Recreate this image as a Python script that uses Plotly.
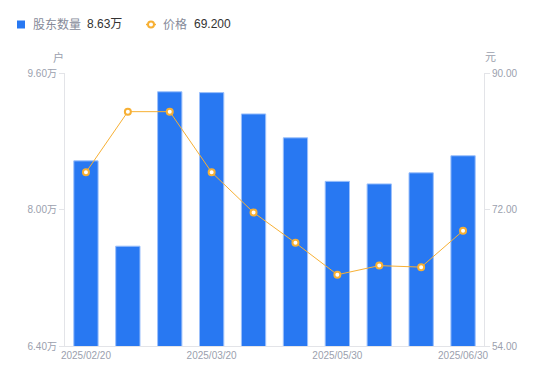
import plotly.graph_objects as go

dates = ["2025/02/20", "2025/02/28", "2025/03/10", "2025/03/20", "2025/03/31",
         "2025/04/30", "2025/05/30", "2025/06/10", "2025/06/20", "2025/06/30"]
holders = [8.57, 7.57, 9.38, 9.37, 9.12, 8.84, 8.33, 8.30, 8.43, 8.63]  # 万户
price = [76.9, 84.9, 84.9, 76.9, 71.6, 67.6, 63.4, 64.6, 64.4, 69.2]
x_ticks = ["2025/02/20", "2025/03/20", "2025/05/30", "2025/06/30"]
left_ticks = [6.4, 8.0, 9.6]
right_ticks = [54, 72, 90]
legend_names = ["股东数量", "价格"]
legend_values = ["8.63万", "69.200"]

FONT = "Liberation Sans, Arial, Noto Sans CJK SC, sans-serif"
GRAY = "#9b9fae"
LEG_GRAY = "#868a99"
DARK = "#333333"
AXIS = "#e3e4e8"
BLUE = "#2878f2"
ORANGE = "#f7b034"

# page body has an 8px margin; compensate so the chart lands where the reference has it
W, H = 542, 373
ML, MR, MT, MB = 57, 66, 65, 35
PW, PH = W - ML - MR, H - MT - MB


def px(x):  # figure pixel -> paper x
    return (x - ML) / PW


def py(y):  # figure pixel (from top) -> paper y
    return (H - MB - y) / PH


fig = go.Figure()
fig.add_trace(go.Bar(
    x=dates, y=holders, base=0, name=legend_names[0],
    marker=dict(color=BLUE, line=dict(color="#9cc0fb", width=1)),
    yaxis="y", hoverinfo="skip",
))
fig.add_trace(go.Scatter(
    x=dates, y=price, mode="lines+markers", name=legend_names[1],
    line=dict(color=ORANGE, width=1),
    marker=dict(color="white", size=6, line=dict(color=ORANGE, width=2)),
    yaxis="y2", hoverinfo="skip",
))

# legend drawn as text + small icons (as in the reference header)
LY = 16.5
shapes = [
    dict(type="rect", xref="paper", yref="paper", x0=px(9), x1=px(17),
         y0=py(LY - 4), y1=py(LY + 4), fillcolor=BLUE, line=dict(width=0)),
    dict(type="line", xref="paper", yref="paper", x0=px(138), x1=px(148),
         y0=py(LY), y1=py(LY), line=dict(color=ORANGE, width=1.5)),
    dict(type="circle", xref="paper", yref="paper", x0=px(140), x1=px(146),
         y0=py(LY - 3), y1=py(LY + 3), fillcolor="white",
         line=dict(color=ORANGE, width=2)),
]
annotations = []
for name, val, xn, xv in zip(legend_names, legend_values, [23, 153], [77, 184]):
    annotations.append(dict(text=name, xref="paper", yref="paper", x=px(xn), y=py(LY),
                            xanchor="left", yanchor="middle", showarrow=False,
                            font=dict(size=12, color=LEG_GRAY, family=FONT)))
    annotations.append(dict(text=val, xref="paper", yref="paper", x=px(xv), y=py(LY),
                            xanchor="left", yanchor="middle", showarrow=False,
                            font=dict(size=12, color=DARK, family=FONT)))
annotations += [
    dict(text="户", xref="paper", yref="paper", x=px(50), y=py(49),
         xanchor="center", yanchor="middle", showarrow=False,
         font=dict(size=11, color=GRAY, family=FONT)),
    dict(text="元", xref="paper", yref="paper", x=px(482), y=py(49),
         xanchor="center", yanchor="middle", showarrow=False,
         font=dict(size=11, color=GRAY, family=FONT)),
]

fig.update_layout(
    width=W, height=H,
    margin=dict(l=ML, r=MR, t=MT, b=MB),
    paper_bgcolor="white", plot_bgcolor="white",
    font=dict(family=FONT, size=10, color=GRAY),
    bargap=0.42,
    showlegend=False,
    xaxis=dict(type="category", range=[-0.5, len(dates) - 0.5],
               tickvals=x_ticks, ticktext=x_ticks,
               showline=True, linecolor=AXIS, linewidth=1, ticks="",
               showgrid=False, tickfont=dict(size=10, color=GRAY)),
    yaxis=dict(range=[6.4, 9.6], tickvals=left_ticks,
               ticktext=[f"{v:.2f}万" for v in left_ticks],
               showline=True, linecolor=AXIS, linewidth=1,
               ticks="outside", ticklen=5, tickcolor=AXIS,
               showgrid=False, zeroline=False, tickfont=dict(size=10, color=GRAY)),
    yaxis2=dict(range=[54, 90], tickvals=right_ticks,
                ticktext=[f"{v:.2f}" for v in right_ticks],
                overlaying="y", side="right",
                showline=True, linecolor=AXIS, linewidth=1,
                ticks="outside", ticklen=5, tickcolor=AXIS,
                showgrid=False, zeroline=False, tickfont=dict(size=10, color=GRAY)),
    shapes=shapes,
    annotations=annotations,
)

fig.write_html("out.html")
